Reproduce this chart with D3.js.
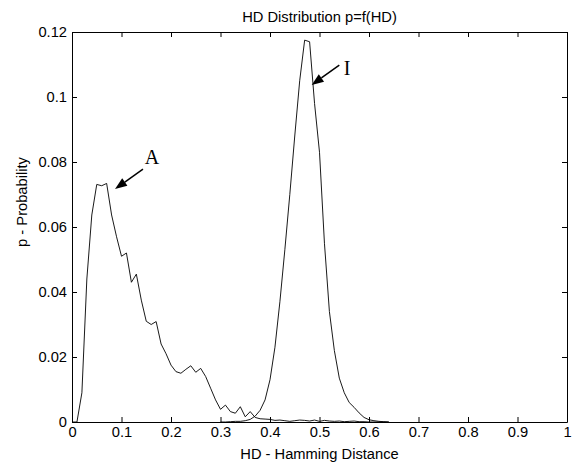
<!DOCTYPE html>
<html>
<head>
<meta charset="utf-8">
<script src="https://cdn.jsdelivr.net/npm/d3@7"></script>
<style>
  body { margin: 0; background: #fff; }
  svg { display: block; font-family: "Liberation Sans", Arial, sans-serif; }
</style>
</head>
<body>
<div id="chart"></div>
<script>
// Curve A (left distribution)
var hdA = [0.00, 0.01, 0.02, 0.03, 0.04, 0.05, 0.06, 0.07, 0.08, 0.09,
           0.10, 0.11, 0.12, 0.13, 0.14, 0.15, 0.16, 0.17, 0.18, 0.19,
           0.20, 0.21, 0.22, 0.23, 0.24, 0.25, 0.26, 0.27, 0.28, 0.29,
           0.30, 0.31, 0.32, 0.33, 0.34, 0.35, 0.36, 0.37, 0.38, 0.39,
           0.40, 0.41, 0.42, 0.43, 0.44, 0.45, 0.46, 0.47, 0.48, 0.49,
           0.50, 0.51, 0.52, 0.53, 0.54, 0.55, 0.56, 0.57, 0.58, 0.59,
           0.60, 0.61, 0.62, 0.63, 0.64];
var probA = [0, 0, 0.009, 0.044, 0.0637, 0.0731, 0.0727, 0.0734, 0.0637, 0.057,
             0.051, 0.052, 0.043, 0.0455, 0.0375, 0.031, 0.030, 0.0309, 0.024, 0.021,
             0.0175, 0.0155, 0.015, 0.0162, 0.0173, 0.0153, 0.0165, 0.014, 0.0104, 0.0068,
             0.0039, 0.0052, 0.0032, 0.0027, 0.0047, 0.0016, 0.0032, 0.0014, 0.0010, 0.0009,
             0.0008, 0.0005, 0.0006, 0.0004, 0.0002, 0.0004, 0.0006, 0.0005, 0.0003, 0.0006,
             0.0002, 0.0005, 0.0003, 0.0002, 0.0003, 0.0001, 0.0002, 0.0003, 0.0001, 0.0001,
             0, 0, 0, 0, 0];

// Curve I (right distribution)
var hdI = [0.30, 0.31, 0.32, 0.33, 0.34, 0.35, 0.36, 0.37, 0.38, 0.39,
           0.40, 0.41, 0.42, 0.43, 0.44, 0.45, 0.46, 0.47, 0.48, 0.49,
           0.50, 0.51, 0.52, 0.53, 0.54, 0.55, 0.56, 0.57, 0.58, 0.59,
           0.60, 0.61, 0.62, 0.63, 0.64];
var probI = [0, 0, 0.0001, 0.0002, 0.0002, 0.0004, 0.0008, 0.0018, 0.0036, 0.0068,
             0.013, 0.023, 0.037, 0.053, 0.070, 0.088, 0.105, 0.1175, 0.117, 0.098,
             0.083, 0.055, 0.034, 0.022, 0.0135, 0.009, 0.006, 0.0045, 0.0028, 0.0014,
             0.0007, 0.0004, 0.0002, 0.0001, 0];

var xTicks = [0, 0.1, 0.2, 0.3, 0.4, 0.5, 0.6, 0.7, 0.8, 0.9, 1];
var xTickLabels = ["0", "0.1", "0.2", "0.3", "0.4", "0.5", "0.6", "0.7", "0.8", "0.9", "1"];
var yTicks = [0, 0.02, 0.04, 0.06, 0.08, 0.1, 0.12];
var yTickLabels = ["0", "0.02", "0.04", "0.06", "0.08", "0.1", "0.12"];

// arrow annotations (data units)
var arrowLabels = ["A", "I"];
var arrowTails = [[0.1434, 0.0778], [0.540, 0.1098]];
var arrowTips = [[0.0869, 0.0717], [0.4842, 0.1037]];
var arrowTextPos = [[0.1616, 0.0794], [0.5556, 0.1068]];

var svgWidth = 576;
var svgHeight = 463;
var margin = { top: 32, right: 9, bottom: 41, left: 72 };
var width = svgWidth - margin.left - margin.right;
var height = svgHeight - margin.top - margin.bottom;
var fontSize = 14.7;

var svg = d3.select("#chart").append("svg")
  .attr("width", svgWidth)
  .attr("height", svgHeight);

var chartGroup = svg.append("g")
  .attr("transform", `translate(${margin.left}, ${margin.top})`);

var x = d3.scaleLinear().domain([0, 1]).range([0, width]);
var y = d3.scaleLinear().domain([0, 0.12]).range([height, 0]);

// axes with inward ticks
var bottomAxis = d3.axisBottom(x).tickValues(xTicks)
  .tickFormat((d, i) => xTickLabels[i])
  .tickSizeInner(-5).tickSizeOuter(0).tickPadding(5);
var leftAxis = d3.axisLeft(y).tickValues(yTicks)
  .tickFormat((d, i) => yTickLabels[i])
  .tickSizeInner(-5).tickSizeOuter(0).tickPadding(5);
var topAxis = d3.axisTop(x).tickValues(xTicks).tickFormat("")
  .tickSizeInner(-5).tickSizeOuter(0);
var rightAxis = d3.axisRight(y).tickValues(yTicks).tickFormat("")
  .tickSizeInner(-5).tickSizeOuter(0);

chartGroup.append("g").attr("transform", `translate(0, ${height})`).call(bottomAxis);
chartGroup.append("g").call(leftAxis);
chartGroup.append("g").call(topAxis);
chartGroup.append("g").attr("transform", `translate(${width}, 0)`).call(rightAxis);

chartGroup.selectAll(".domain, .tick line")
  .attr("stroke", "#000")
  .attr("stroke-width", 1);
chartGroup.selectAll(".tick text")
  .attr("fill", "#000")
  .attr("font-size", fontSize)
  .attr("font-family", "Liberation Sans, Arial, sans-serif");

// curves
var line = d3.line()
  .x(d => x(d[0]))
  .y(d => y(d[1]));

chartGroup.append("path")
  .datum(d3.zip(hdA, probA))
  .attr("fill", "none")
  .attr("stroke", "#000")
  .attr("stroke-width", 0.9)
  .attr("d", line);

chartGroup.append("path")
  .datum(d3.zip(hdI, probI))
  .attr("fill", "none")
  .attr("stroke", "#000")
  .attr("stroke-width", 0.9)
  .attr("d", line);

// arrows
arrowLabels.forEach(function(lbl, i) {
  var x0 = x(arrowTails[i][0]), y0 = y(arrowTails[i][1]);
  var x1 = x(arrowTips[i][0]), y1 = y(arrowTips[i][1]);
  var dx = x1 - x0, dy = y1 - y0;
  var len = Math.sqrt(dx * dx + dy * dy);
  var ux = dx / len, uy = dy / len;
  var headLen = 12, headHalf = 4.5;
  var bx = x1 - ux * headLen, by = y1 - uy * headLen;

  chartGroup.append("line")
    .attr("x1", x0).attr("y1", y0)
    .attr("x2", bx).attr("y2", by)
    .attr("stroke", "#000")
    .attr("stroke-width", 1.5);

  chartGroup.append("path")
    .attr("d", `M${x1},${y1}L${bx - uy * headHalf},${by + ux * headHalf}L${bx + uy * headHalf},${by - ux * headHalf}Z`)
    .attr("fill", "#000");

  chartGroup.append("text")
    .attr("x", x(arrowTextPos[i][0]))
    .attr("y", y(arrowTextPos[i][1]))
    .attr("text-anchor", "middle")
    .attr("font-family", "Liberation Serif, Times New Roman, serif")
    .attr("font-size", 20)
    .text(lbl);
});

// title and axis labels
svg.append("text")
  .attr("x", margin.left + width / 2)
  .attr("y", 22)
  .attr("text-anchor", "middle")
  .attr("font-size", fontSize)
  .text("HD Distribution p=f(HD)");

svg.append("text")
  .attr("x", margin.left + width / 2)
  .attr("y", 459)
  .attr("text-anchor", "middle")
  .attr("font-size", fontSize)
  .text("HD - Hamming Distance");

svg.append("text")
  .attr("transform", "translate(27, 202) rotate(-90)")
  .attr("text-anchor", "middle")
  .attr("font-size", fontSize)
  .text("p - Probability");
</script>
</body>
</html>
